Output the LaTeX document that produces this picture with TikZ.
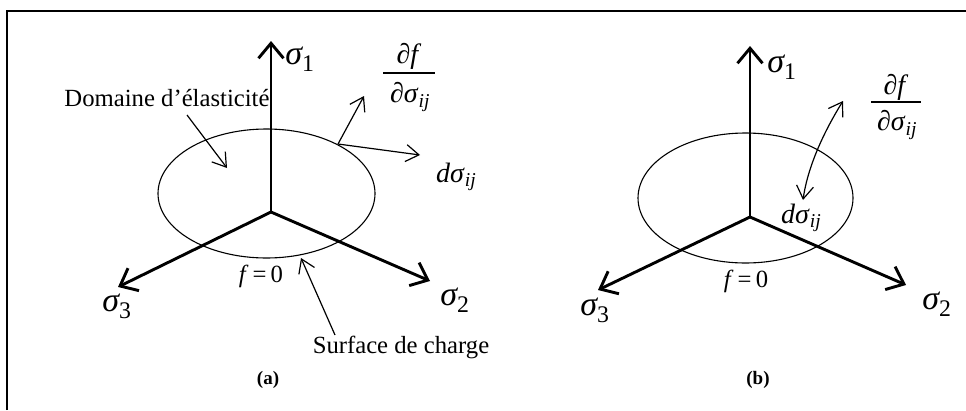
\documentclass[tikz,border=0pt]{standalone}
\usepackage{fontspec}
\setmainfont{Liberation Serif}
\usetikzlibrary{arrows.meta}
\begin{document}
\begin{tikzpicture}[x=1pt,y=-1pt,
  axis/.style={line width=2.9pt,-{Straight Barb[length=15pt,width=25pt]}},
  thinarrow/.style={line width=1.2pt,-{Straight Barb[length=13pt,width=17pt]}},
  dblarrow/.style={line width=1.2pt,{Straight Barb[length=13pt,width=17pt]}-{Straight Barb[length=13pt,width=17pt]}},
  surf/.style={line width=1.1pt},
  frameline/.style={line width=1.2pt},
  lbl/.style={inner sep=0pt,font=\fontsize{24.7}{28}\selectfont},
  sig/.style={inner sep=0pt,font=\fontsize{34}{38}\selectfont\itshape},
  frac/.style={inner sep=0pt,font=\fontsize{28}{31}\selectfont},
  captext/.style={inner sep=0pt,font=\fontsize{19}{21}\selectfont\bfseries}]
\useasboundingbox (0,0) rectangle (966,410);
% frame
\coordinate (fb) at (7,410);
\coordinate (ftl) at (7,11);
\coordinate (ftr) at (966,11);
\draw[frameline] (fb) -- (ftl) -- (ftr);

% ---------- panel (a) ----------
\coordinate (Oa) at (271,212);
\coordinate (A1) at (271,41);
\coordinate (A2) at (430,281);
\coordinate (A3) at (118,287);
\coordinate (Ea) at (266.5,193.5);
\draw[surf] (Ea) ellipse [x radius=108.5pt, y radius=64.5pt];
\draw[axis] (Oa) -- (A1);
\draw[axis] (Oa) -- (A2);
\draw[axis] (Oa) -- (A3);
\node[sig] (s1a) at (300,59) {σ\textsubscript{\upshape 1}};
\node[sig] (s2a) at (455,300) {σ\textsubscript{\upshape 2}};
\node[sig] (s3a) at (117,306) {σ\textsubscript{\upshape 3}};

\node[lbl] (dom) at (167,98) {Domaine d’élasticité};
\coordinate (domt) at (187,115);
\coordinate (domh) at (227,168);
\draw[thinarrow] (domt) -- (domh);

\coordinate (Pa) at (338,144);
\coordinate (Na) at (364,96);
\coordinate (Da) at (420,155);
\draw[thinarrow] (Pa) -- (Na);
\draw[thinarrow] (Pa) -- (Da);

\node[frac] (numa) at (409,56) {∂\textit{f}};
\node[frac] (dena) at (410,97) {∂\textit{σ}\textsubscript{\textit{ij}}};
\coordinate (bara1) at (383,73);
\coordinate (bara2) at (435,73);
\draw[line width=1.2pt] (bara1) -- (bara2);
\node[frac,anchor=west] (dsa) at (436,177) {\textit{dσ}\textsubscript{\textit{ij}}};

\node[lbl] (f0a) at (261,276) {\textit{f}\,=\,0};
\node[lbl] (surfc) at (401,347) {Surface de charge};
\coordinate (sct) at (335,335);
\coordinate (sch) at (301,258);
\draw[thinarrow] (sct) -- (sch);
\node[captext] (capa) at (268,380) {(a)};

% ---------- panel (b) ----------
\coordinate (Ob) at (750,217);
\coordinate (B1) at (750,46);
\coordinate (B2) at (906,285);
\coordinate (B3) at (598,290);
\coordinate (Eb) at (745.5,198);
\draw[surf] (Eb) ellipse [x radius=107.5pt, y radius=65pt];
\draw[axis] (Ob) -- (B1);
\draw[axis] (Ob) -- (B2);
\draw[axis] (Ob) -- (B3);
\node[sig] (s1b) at (782,67) {σ\textsubscript{\upshape 1}};
\node[sig] (s2b) at (937,304) {σ\textsubscript{\upshape 2}};
\node[sig] (s3b) at (595,310) {σ\textsubscript{\upshape 3}};

\coordinate (Tb) at (843,101);
\coordinate (Hb) at (803,200);
\draw[dblarrow] (Tb) .. controls (825,130) and (808,165) .. (Hb);

\node[frac] (numb) at (896,87) {∂\textit{f}};
\node[frac] (denb) at (897,125) {∂\textit{σ}\textsubscript{\textit{ij}}};
\coordinate (barb1) at (871,102);
\coordinate (barb2) at (921,102);
\draw[line width=1.2pt] (barb1) -- (barb2);
\node[frac,anchor=west] (dsb) at (781,218) {\textit{dσ}\textsubscript{\textit{ij}}};

\node[lbl] (f0b) at (746,281) {\textit{f}\,=\,0};
\node[captext] (capb) at (758,380) {(b)};
\end{tikzpicture}
\end{document}
